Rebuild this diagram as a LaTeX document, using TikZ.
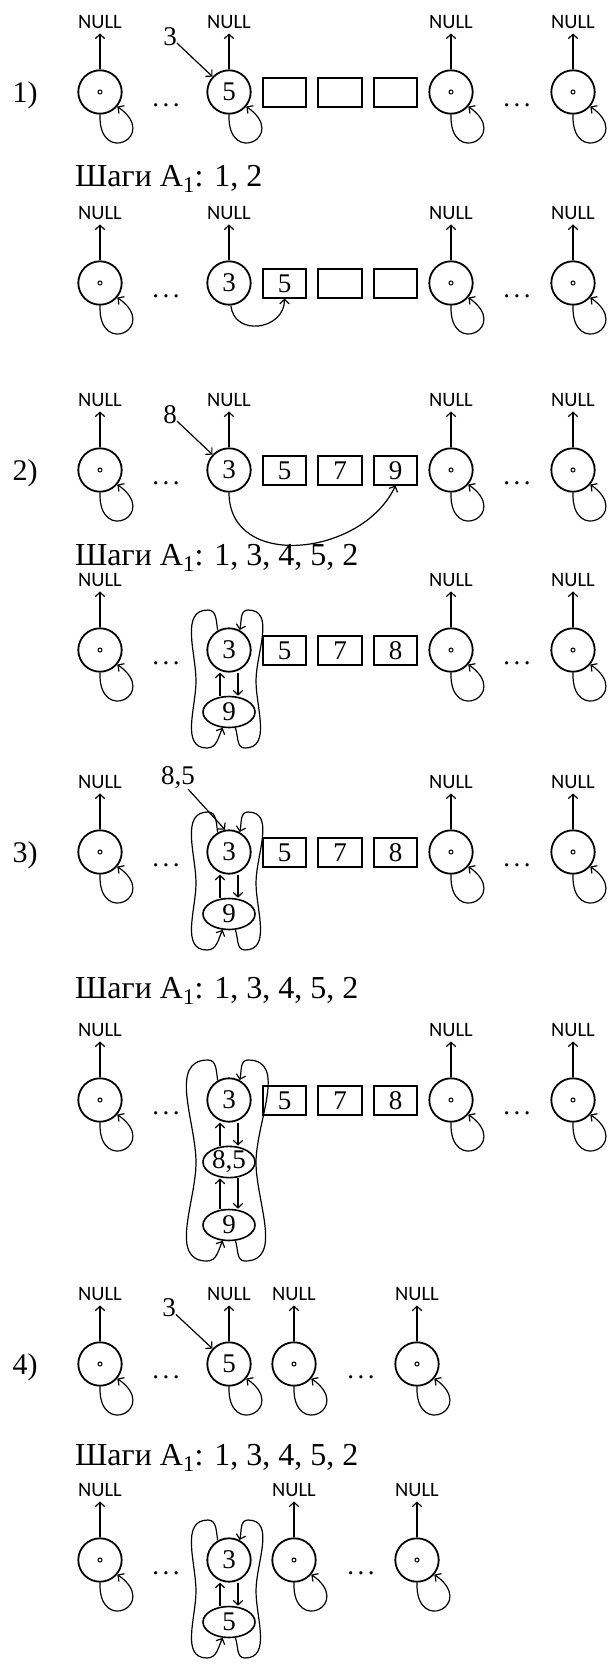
\documentclass[tikz,border=0pt]{standalone}
\usepackage{fontspec}
\setmainfont{Liberation Serif}
\newfontfamily\nullsans{Carlito}
\usetikzlibrary{arrows.meta,positioning,calc,shapes.geometric}
\tikzset{
    ptr/.style = {-{Straight Barb[length=4.5pt,width=9.5pt]}, line width=1.2pt},
    vertex/.style = {draw, circle, line width=1.8pt, minimum size=43.4pt, inner sep=0pt, font=\fontsize{27}{27}\selectfont},
    free-vertex/.style = {vertex, path picture={\draw[line width=1pt] (path picture bounding box.center) circle (2pt);}},
    cell/.style = {draw, rectangle, line width=1.8pt, minimum width=43.4pt, minimum height=28.3pt, inner sep=0pt, font=\fontsize{27}{27}\selectfont},
    merged/.style = {draw, ellipse, line width=1.6pt, minimum width=52pt, minimum height=31pt, inner sep=0pt, font=\fontsize{27}{27}\selectfont},
    null-label/.style = {font=\nullsans\fontsize{20.5}{20.5}\selectfont, inner sep=0pt, inner ysep=4.5pt},
    key-label/.style = {font=\fontsize{27}{27}\selectfont, inner sep=0pt},
    row-label/.style = {font=\fontsize{30}{30}\selectfont, inner sep=0pt},
    steps-label/.style = {font=\fontsize{32}{32}\selectfont, anchor=base west, inner sep=0pt},
    gap-dots/.style = {font=\fontsize{27}{27}\selectfont, anchor=base, inner sep=0pt},
}
\newcommand{\gapdots}{.\kern3.4pt.\kern3.4pt.}
% NULL pointer above a vertex
\newcommand{\tonull}[1]{\node[null-label, above=36pt of #1] (#1-null) {NULL}; \draw[ptr] (#1) -- (#1-null);}
% vertex pointing to itself
\newcommand{\selfloop}[1]{\draw[ptr] (#1.-90) to[out=-92,in=-35,looseness=7] (#1.-40);}
% up and down pointers between two stacked vertices
\newcommand{\linkpair}[2]{%
    \draw[ptr] ([xshift=-9pt]#2.north) -- ([xshift=-9pt]#1.south);
    \draw[ptr] ([xshift=9pt]#1.south) -- ([xshift=9pt]#2.north);}
% the two long pointers closing a ring from top vertex #1 to bottom vertex #2
\newcommand{\ringloops}[2]{%
    \draw[ptr] (#1.120) to[out=100,in=0] ($(#1)+(-21,40)$) to[out=180,in=90] ($(#1)!.5!(#2)+(-33,0)$)
        to[out=-90,in=180] ($(#2)+(-22,-36)$) to[out=0,in=-115] (#2.-112);
    \draw[ptr] (#2.-68) to[out=-70,in=180] ($(#2)+(16,-36)$) to[out=0,in=-90] ($(#1)!.5!(#2)+(27,0)$)
        to[out=90,in=0] ($(#1)+(19,40)$) to[out=180,in=75] (#1.62);}

\begin{document}
\begin{tikzpicture}[x=1pt,y=1pt]
\useasboundingbox (0,0) rectangle (608,-1665);

% 1)
\node[row-label] (lab1) at (25,-95) {1)};
\node[free-vertex] (r1-a) at (100,-92) {};
\node[vertex] (r1-b) at (229,-92) {5};
\node[cell] (r1-c1) at (284.5,-92.5) {};
\node[cell] (r1-c2) at (340,-92.5) {};
\node[cell] (r1-c3) at (395.5,-92.5) {};
\node[free-vertex] (r1-d) at (451,-92) {};
\node[free-vertex] (r1-e) at (573,-92) {};
\node[gap-dots] (r1-g1) at (166,-106) {\gapdots};
\node[gap-dots] (r1-g2) at (517,-106) {\gapdots};
\tonull{r1-a} \tonull{r1-b} \tonull{r1-d} \tonull{r1-e}
\selfloop{r1-a} \selfloop{r1-b} \selfloop{r1-d} \selfloop{r1-e}
\node[key-label] (r1-key) at (170,-36.5) {3};
\draw[ptr] (r1-key) -- (r1-b.137);

\node[steps-label] (st1) at (75,-186) {Шаги A\textsubscript{1}: 1, 2};

\node[free-vertex] (r1s-a) at (100,-283) {};
\node[vertex] (r1s-b) at (229,-283) {3};
\node[cell] (r1s-c1) at (284.5,-283.5) {5};
\node[cell] (r1s-c2) at (340,-283.5) {};
\node[cell] (r1s-c3) at (395.5,-283.5) {};
\node[free-vertex] (r1s-d) at (451,-283) {};
\node[free-vertex] (r1s-e) at (573,-283) {};
\node[gap-dots] (r1s-g1) at (166,-297) {\gapdots};
\node[gap-dots] (r1s-g2) at (517,-297) {\gapdots};
\tonull{r1s-a} \tonull{r1s-b} \tonull{r1s-d} \tonull{r1s-e}
\selfloop{r1s-a} \selfloop{r1s-d} \selfloop{r1s-e}
\draw[ptr] (r1s-b.-85) to[out=-85,in=-90,looseness=1.5] (r1s-c1.south);

% 2)
\node[row-label] (lab2) at (25,-473) {2)};
\node[free-vertex] (r2-a) at (100,-470) {};
\node[vertex] (r2-b) at (229,-470) {3};
\node[cell] (r2-c1) at (284.5,-470.5) {5};
\node[cell] (r2-c2) at (340,-470.5) {7};
\node[cell] (r2-c3) at (395.5,-470.5) {9};
\node[free-vertex] (r2-d) at (451,-470) {};
\node[free-vertex] (r2-e) at (573,-470) {};
\node[gap-dots] (r2-g1) at (166,-484) {\gapdots};
\node[gap-dots] (r2-g2) at (517,-484) {\gapdots};
\tonull{r2-a} \tonull{r2-b} \tonull{r2-d} \tonull{r2-e}
\selfloop{r2-a} \selfloop{r2-d} \selfloop{r2-e}
\node[key-label] (r2-key) at (170,-414.5) {8};
\draw[ptr] (r2-key) -- (r2-b.137);
\draw[ptr] (r2-b.-90) to[out=-90,in=-115,looseness=1.2] (r2-c3.south);

\node[steps-label] (st2) at (75,-565) {Шаги A\textsubscript{1}: 1, 3, 4, 5, 2};

\node[free-vertex] (r2s-a) at (100,-650) {};
\node[vertex] (r2s-b) at (229,-650) {3};
\node[merged] (r2s-m) at (229,-712) {9};
\node[cell] (r2s-c1) at (284.5,-650.5) {5};
\node[cell] (r2s-c2) at (340,-650.5) {7};
\node[cell] (r2s-c3) at (395.5,-650.5) {8};
\node[free-vertex] (r2s-d) at (451,-650) {};
\node[free-vertex] (r2s-e) at (573,-650) {};
\node[gap-dots] (r2s-g1) at (166,-664) {\gapdots};
\node[gap-dots] (r2s-g2) at (517,-664) {\gapdots};
\tonull{r2s-a} \tonull{r2s-d} \tonull{r2s-e}
\selfloop{r2s-a} \selfloop{r2s-d} \selfloop{r2s-e}
\linkpair{r2s-b}{r2s-m}
\ringloops{r2s-b}{r2s-m}

% 3)
\node[row-label] (lab3) at (25,-855) {3)};
\node[free-vertex] (r3-a) at (100,-852) {};
\node[vertex] (r3-b) at (229,-852) {3};
\node[merged] (r3-m) at (229,-914) {9};
\node[cell] (r3-c1) at (284.5,-852.5) {5};
\node[cell] (r3-c2) at (340,-852.5) {7};
\node[cell] (r3-c3) at (395.5,-852.5) {8};
\node[free-vertex] (r3-d) at (451,-852) {};
\node[free-vertex] (r3-e) at (573,-852) {};
\node[gap-dots] (r3-g1) at (166,-866) {\gapdots};
\node[gap-dots] (r3-g2) at (517,-866) {\gapdots};
\tonull{r3-a} \tonull{r3-d} \tonull{r3-e}
\selfloop{r3-a} \selfloop{r3-d} \selfloop{r3-e}
\linkpair{r3-b}{r3-m}
\ringloops{r3-b}{r3-m}
\node[key-label] (r3-key) at (178,-778) {8,5};
\draw[ptr] (r3-key) -- (r3-b.100);

\node[steps-label] (st3) at (75,-998) {Шаги A\textsubscript{1}: 1, 3, 4, 5, 2};

\node[free-vertex] (r3s-a) at (100,-1100) {};
\node[vertex] (r3s-b) at (229,-1100) {3};
\node[merged] (r3s-m1) at (229,-1162) {8,5};
\node[merged] (r3s-m2) at (229,-1225) {9};
\node[cell] (r3s-c1) at (284.5,-1100.5) {5};
\node[cell] (r3s-c2) at (340,-1100.5) {7};
\node[cell] (r3s-c3) at (395.5,-1100.5) {8};
\node[free-vertex] (r3s-d) at (451,-1100) {};
\node[free-vertex] (r3s-e) at (573,-1100) {};
\node[gap-dots] (r3s-g1) at (166,-1114) {\gapdots};
\node[gap-dots] (r3s-g2) at (517,-1114) {\gapdots};
\tonull{r3s-a} \tonull{r3s-d} \tonull{r3s-e}
\selfloop{r3s-a} \selfloop{r3s-d} \selfloop{r3s-e}
\linkpair{r3s-b}{r3s-m1}
\linkpair{r3s-m1}{r3s-m2}
\ringloops{r3s-b}{r3s-m2}

% 4)
\node[row-label] (lab4) at (25,-1367) {4)};
\node[free-vertex] (r4-a) at (100,-1364) {};
\node[vertex] (r4-b) at (229,-1364) {5};
\node[free-vertex] (r4-d) at (294,-1364) {};
\node[free-vertex] (r4-e) at (417,-1364) {};
\node[gap-dots] (r4-g1) at (166,-1378) {\gapdots};
\node[gap-dots] (r4-g2) at (361,-1378) {\gapdots};
\tonull{r4-a} \tonull{r4-b} \tonull{r4-d} \tonull{r4-e}
\selfloop{r4-a} \selfloop{r4-b} \selfloop{r4-d} \selfloop{r4-e}
\node[key-label] (r4-key) at (169,-1308) {3};
\draw[ptr] (r4-key) -- (r4-b.137);

\node[steps-label] (st4) at (75,-1465) {Шаги A\textsubscript{1}: 1, 3, 4, 5, 2};

\node[free-vertex] (r4s-a) at (100,-1560) {};
\node[vertex] (r4s-b) at (229,-1560) {3};
\node[merged] (r4s-m) at (229,-1622) {5};
\node[free-vertex] (r4s-d) at (294,-1560) {};
\node[free-vertex] (r4s-e) at (417,-1560) {};
\node[gap-dots] (r4s-g1) at (166,-1574) {\gapdots};
\node[gap-dots] (r4s-g2) at (361,-1574) {\gapdots};
\tonull{r4s-a} \tonull{r4s-d} \tonull{r4s-e}
\selfloop{r4s-a} \selfloop{r4s-d} \selfloop{r4s-e}
\linkpair{r4s-b}{r4s-m}
\ringloops{r4s-b}{r4s-m}
\end{tikzpicture}
\end{document}
